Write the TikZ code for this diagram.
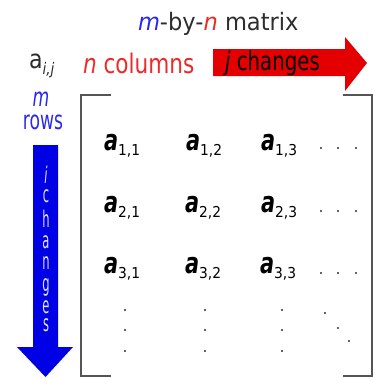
\documentclass[tikz,border=0pt]{standalone}
\usepackage{fontspec}
\setmainfont{DejaVu Sans}
\newfontfamily\ftitle[FakeStretch=0.94]{DejaVu Sans}
\newfontfamily\fcols[FakeStretch=0.8]{DejaVu Sans}
\newfontfamily\faij[FakeStretch=0.85]{DejaVu Sans}
\newfontfamily\fjch[FakeStretch=0.76]{DejaVu Sans}
\newfontfamily\frows[FakeStretch=0.66]{DejaVu Sans}
\newfontfamily\fvert[FakeStretch=0.5]{DejaVu Sans}
\newfontfamily\fent[FakeStretch=0.72]{DejaVu Sans}
\newfontfamily\fsub[FakeStretch=0.92]{DejaVu Sans}
\definecolor{arrred}{RGB}{228,0,0}
\definecolor{arrblue}{RGB}{0,0,228}
\definecolor{txtred}{RGB}{240,40,40}
\definecolor{txtblue}{RGB}{40,40,240}
\definecolor{brk}{RGB}{85,85,85}
\definecolor{dk}{RGB}{45,45,45}
\definecolor{vlet}{RGB}{225,225,255}
\newcommand{\ent}[2]{{\fent\fontsize{29}{32}\selectfont\bfseries\itshape a}\raisebox{-5pt}{\fsub\fontsize{15}{17}\selectfont #1,#2}}
\begin{document}
\begin{tikzpicture}[x=1pt,y=-1pt,
  txt/.style={inner sep=0pt,outer sep=0pt},
  vl/.style={txt,anchor=base,text=vlet,font=\fvert\fontsize{23}{25}\selectfont},
  entry/.style={txt,anchor=base west,text=black},
  dotm/.style={fill=dk,draw=none}]
\useasboundingbox (0,0) rectangle (375,378);
% red arrow
\fill[arrred] (213,49) -- (345,49) -- (345,37) -- (367,63) -- (345,91) -- (345,76) -- (213,76) -- cycle;
% blue arrow
\fill[arrblue] (33,145) -- (58,145) -- (58,347) -- (73,347) -- (45.5,377) -- (17,347) -- (33,347) -- cycle;
% bracket
\draw[brk,line width=2pt] (111,95) -- (81,95) -- (81,376) -- (111,376);
\draw[brk,line width=2pt] (343,95) -- (372,95) -- (372,376) -- (343,376);
% title
\node[txt,anchor=base west,font=\ftitle\fontsize{24}{27}\selectfont] (title) at (138,30)
  {\textcolor{txtblue}{\itshape m}\textcolor{dk}{-by-}\textcolor{txtred}{\itshape n}\textcolor{dk}{\ matrix}};
\node[txt,anchor=base west,text=dk,font=\faij\fontsize{26}{28}\selectfont] (aij) at (29,68)
  {a\raisebox{-6pt}{\fontsize{16}{18}\selectfont\itshape i,j}};
\node[txt,anchor=base west,text=txtred,font=\fcols\fontsize{27}{30}\selectfont] (ncol) at (83,73)
  {{\itshape n} columns};
\node[txt,anchor=base west,text=black,font=\fjch\fontsize{26}{29}\selectfont] (jch) at (225,70)
  {{\itshape j} changes};
\node[txt,anchor=base,text=txtblue,font=\frows\fontsize{26}{28}\selectfont] (m) at (41,106) {\itshape m};
\node[txt,anchor=base,text=txtblue,font=\frows\fontsize{26}{28}\selectfont] (rows) at (43,129) {rows};
% vertical letters
\node[vl] (v1) at (46,183) {\itshape i};
\node[vl] (v2) at (46,202) {c};
\node[vl] (v3) at (46,227) {h};
\node[vl] (v4) at (46,248) {a};
\node[vl] (v5) at (46,269) {n};
\node[vl] (v6) at (46,291) {g};
\node[vl] (v7) at (46,313) {e};
\node[vl] (v8) at (46,331) {s};
% entries
\node[entry] (a11) at (104,150) {\ent{1}{1}};
\node[entry] (a12) at (186,150) {\ent{1}{2}};
\node[entry] (a13) at (261,150) {\ent{1}{3}};
\node[entry] (a21) at (104,212) {\ent{2}{1}};
\node[entry] (a22) at (185,212) {\ent{2}{2}};
\node[entry] (a23) at (261,212) {\ent{2}{3}};
\node[entry] (a31) at (104,273) {\ent{3}{1}};
\node[entry] (a32) at (185,273) {\ent{3}{2}};
\node[entry] (a33) at (260,273) {\ent{3}{3}};
% horizontal dots
\foreach \y in {148,211,273}{
  \foreach \x in {321,338,356}{\fill[dotm] (\x,\y) circle (1.1);}}
% vertical dots
\foreach \x in {125,205,282}{
  \foreach \y in {310,330,351}{\fill[dotm] (\x,\y) circle (1.1);}}
% diagonal dots
\fill[dotm] (325,313) circle (1.1);
\fill[dotm] (338,328) circle (1.1);
\fill[dotm] (349,341) circle (1.1);
\end{tikzpicture}
\end{document}
